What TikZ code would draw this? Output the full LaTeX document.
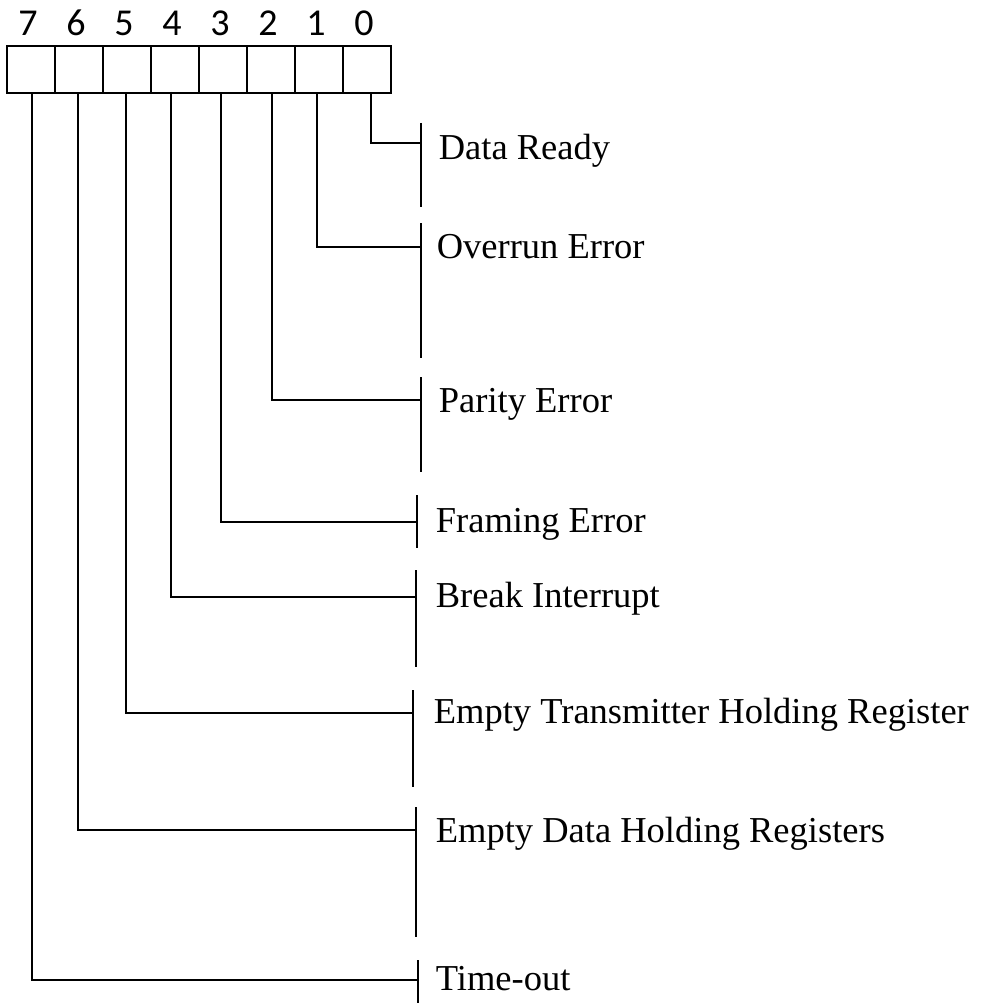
\documentclass[tikz,border=0pt]{standalone}
\usepackage{fontspec}
\setmainfont{Liberation Serif}
\newfontfamily\digfont{Carlito}
\begin{document}
\begin{tikzpicture}[x=1pt,y=-1pt,line width=1.7pt,
  cell/.style={draw,minimum width=48pt,minimum height=47pt,inner sep=0pt,line width=1.7pt},
  digit/.style={anchor=base,inner sep=0pt,font=\digfont\fontsize{38}{44}\selectfont},
  lab/.style={anchor=base west,inner sep=0pt,font=\fontsize{36.5}{42}\selectfont},
  wire/.style={line width=1.7pt},
  bar/.style={line width=1.7pt}]
\useasboundingbox (0,0) rectangle (986,1003);
% register cells
\foreach \i/\b in {0/7,1/6,2/5,3/4,4/3,5/2,6/1,7/0}{
  \node[cell] (c\b) at ({31+48*\i},69.5) {};
  \node[digit] (d\b) at ({28+48*\i},36) {\b};
}
% labels
\node[lab] (l0) at (438,160) {Data Ready};
\node[lab] (l1) at (436,258) {Overrun Error};
\node[lab] (l2) at (438,412) {Parity Error};
\node[lab] (l3) at (435,532) {Framing Error};
\node[lab] (l4) at (435,607) {Break Interrupt};
\node[lab] (l5) at (433,723) {Empty Transmitter Holding Register};
\node[lab] (l6) at (435,842) {Empty Data Holding Registers};
\node[lab] (l7) at (435,990) {Time-out};
% bars
\coordinate (t0) at (421,123); \coordinate (b0) at (421,207); \coordinate (j0) at (421,143);
\coordinate (t1) at (421,223); \coordinate (b1) at (421,358); \coordinate (j1) at (421,247);
\coordinate (t2) at (421,377); \coordinate (b2) at (421,472); \coordinate (j2) at (421,400);
\coordinate (t3) at (417,495); \coordinate (b3) at (417,548); \coordinate (j3) at (417,522);
\coordinate (t4) at (416,570); \coordinate (b4) at (416,667); \coordinate (j4) at (416,597);
\coordinate (t5) at (413,690); \coordinate (b5) at (413,787); \coordinate (j5) at (413,713);
\coordinate (t6) at (416,807); \coordinate (b6) at (416,937); \coordinate (j6) at (416,830);
\coordinate (t7) at (418,960); \coordinate (b7) at (418,1003); \coordinate (j7) at (418,980);
\foreach \k in {0,...,7}{ \draw[bar] (t\k) -- (b\k); }
% connectors
\draw[wire] ([xshift=4pt]c0.south) |- (j0);
\draw[wire] ([xshift=-2pt]c1.south) |- (j1);
\draw[wire] ([xshift=1pt]c2.south) |- (j2);
\draw[wire] ([xshift=-2pt]c3.south) |- (j3);
\draw[wire] ([xshift=-4pt,yshift=2pt]c4.south) |- (j4);
\draw[wire] ([xshift=-1pt]c5.south) |- (j5);
\draw[wire] ([xshift=-1pt]c6.south) |- (j6);
\draw[wire] ([xshift=1pt]c7.south) |- (j7);
\end{tikzpicture}
\end{document}
